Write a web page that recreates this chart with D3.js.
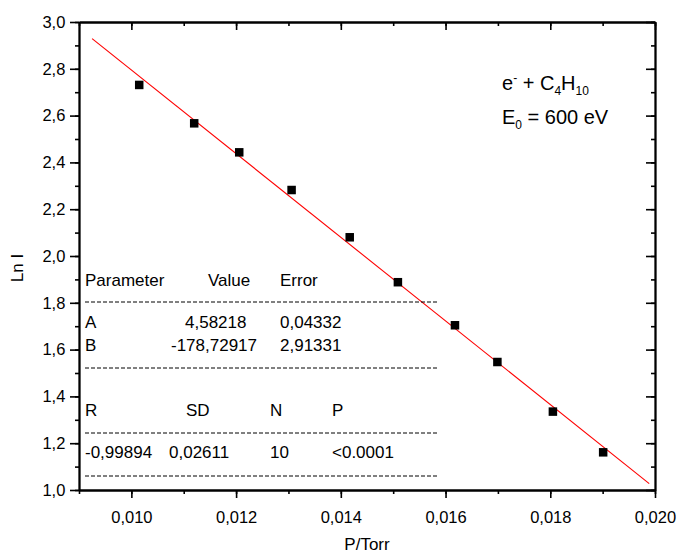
<!DOCTYPE html>
<html>
<head>
<meta charset="utf-8">
<script src="https://cdn.jsdelivr.net/npm/d3@7"></script>
<style>
  html, body { margin: 0; padding: 0; background: #fff; }
  svg text { font-family: "Liberation Sans", Arial, sans-serif; fill: #000; }
</style>
</head>
<body>
<div id="chart"></div>
<script>
"use strict";

/* ── Data ── */
const pressure = [0.01015, 0.01120, 0.01206, 0.01306, 0.01417, 0.01509, 0.01618, 0.01699, 0.01805, 0.01901];
const lnI      = [2.731, 2.567, 2.443, 2.282, 2.080, 1.888, 1.704, 1.547, 1.335, 1.161];

/* linear fit  lnI = A + B * P */
const fitA = 4.58218;
const fitB = -178.72917;
const fitRange = [0.00925, 0.01989];

const xTicks = [0.010, 0.012, 0.014, 0.016, 0.018, 0.020];
const yTicks = [1.0, 1.2, 1.4, 1.6, 1.8, 2.0, 2.2, 2.4, 2.6, 2.8, 3.0];

const paramHeader = ["Parameter", "Value", "Error"];
const paramRows   = [["A", "4,58218", "0,04332"], ["B", "-178,72917", "2,91331"]];
const statHeader  = ["R", "SD", "N", "P"];
const statRow     = ["-0,99894", "0,02611", "10", "<0.0001"];

/* ── Layout ── */
const W = 680, H = 554;
const plot = { left: 79, right: 655, top: 22, bottom: 490 };

const svg = d3.select("#chart").append("svg")
  .attr("width", W).attr("height", H);

const x = d3.scaleLinear().domain([0.009, 0.020]).range([plot.left, plot.right]);
const y = d3.scaleLinear().domain([1.0, 3.0]).range([plot.bottom, plot.top]);

const comma = f => v => d3.format(f)(v).replace(".", ",");
const xMinor = d3.range(9, 21).map(d => d / 1000);
const yMinor = d3.range(10, 31).map(d => d / 10);

/* ── Axes: minor ticks first, then majors with labels ── */
function axis(gen, scale, pos, vals, size, fmt) {
  const g = svg.append("g").attr("transform", pos)
    .call(gen(scale).tickValues(vals).tickSizeInner(size).tickSizeOuter(0)
      .tickFormat(fmt || ""));
  g.select(".domain").attr("stroke", "#000").attr("stroke-width", 1.8);
  g.selectAll(".tick line").attr("stroke", "#000").attr("stroke-width", 1.6);
  g.selectAll(".tick text")
    .style("font-family", '"Liberation Sans", Arial, sans-serif')
    .attr("font-size", "16.5px").attr("fill", "#000");
  return g;
}

// bottom
axis(d3.axisBottom, x, `translate(0,${plot.bottom})`, xMinor, 4);
axis(d3.axisBottom, x, `translate(0,${plot.bottom})`, xTicks, 8, comma(".3f"))
  .selectAll(".tick text").attr("dy", "1.35em");
// left
axis(d3.axisLeft, y, `translate(${plot.left},0)`, yMinor, 4);
axis(d3.axisLeft, y, `translate(${plot.left},0)`, yTicks, 9, comma(".1f"))
  .selectAll(".tick text").attr("dx", "-0.1em");
// top (inward)
axis(d3.axisBottom, x, `translate(0,${plot.top})`, xMinor, 4);
axis(d3.axisBottom, x, `translate(0,${plot.top})`, xTicks, 8);
// right (inward)
axis(d3.axisLeft, y, `translate(${plot.right},0)`, yMinor, 4);
axis(d3.axisLeft, y, `translate(${plot.right},0)`, yTicks, 9);

/* ── Axis titles ── */
svg.append("text")
  .attr("x", (plot.left + plot.right) / 2).attr("y", 550)
  .attr("text-anchor", "middle").attr("font-size", "17px")
  .text("P/Torr");

svg.append("text")
  .attr("transform", `translate(23,268) rotate(-90)`)
  .attr("text-anchor", "middle").attr("font-size", "17px")
  .text("Ln I");

/* ── Fit line ── */
const line = d3.line().x(d => x(d)).y(d => y(fitA + fitB * d));
svg.append("path")
  .datum(fitRange)
  .attr("d", line)
  .attr("fill", "none")
  .attr("stroke", "#ff0000")
  .attr("stroke-width", 1.1);

/* ── Points ── */
const pts = pressure.map((p, i) => ({ p, v: lnI[i] }));
const sq = 8.5;
svg.selectAll(".pt").data(pts).join("rect")
  .attr("class", "pt")
  .attr("x", d => x(d.p) - sq / 2)
  .attr("y", d => y(d.v) - sq / 2)
  .attr("width", sq).attr("height", sq)
  .attr("fill", "#000");

/* ── Annotation ── */
const ann = svg.append("g").attr("font-size", "20px");
const t1 = ann.append("text").attr("x", 502).attr("y", 90);
t1.append("tspan").text("e");
t1.append("tspan").attr("font-size", "12px").attr("dy", -8).text("-");
t1.append("tspan").attr("dy", 8).text(" + C");
t1.append("tspan").attr("font-size", "12px").attr("dy", 5).text("4");
t1.append("tspan").attr("dy", -5).text("H");
t1.append("tspan").attr("font-size", "12px").attr("dy", 5).text("10");

const t2 = ann.append("text").attr("x", 502).attr("y", 124);
t2.append("tspan").text("E");
t2.append("tspan").attr("font-size", "12px").attr("dy", 5).text("0");
t2.append("tspan").attr("dy", -5).text(" = 600 eV");

/* ── Fit results table ── */
const tbl = svg.append("g").attr("font-size", "17px");
const cell = (txt, cx, cy) => tbl.append("text").attr("x", cx).attr("y", cy).text(txt);

[85, 208, 280].forEach((cx, i) => cell(paramHeader[i], cx, 286));
const valueX = [185, 171];
paramRows.forEach((r, j) => {
  const cy = 328 + j * 23;
  cell(r[0], 85, cy);
  cell(r[1], valueX[j], cy);
  cell(r[2], 280, cy);
});
[85, 186, 270, 332].forEach((cx, i) => cell(statHeader[i], cx, 416));
[85, 169, 270, 332].forEach((cx, i) => cell(statRow[i], cx, 458));

[302, 368, 433, 476].forEach(ly => {
  tbl.append("line")
    .attr("x1", 85).attr("x2", 438)
    .attr("y1", ly).attr("y2", ly)
    .attr("stroke", "#000").attr("stroke-width", 1)
    .attr("stroke-dasharray", "4,2");
});
</script>
</body>
</html>
